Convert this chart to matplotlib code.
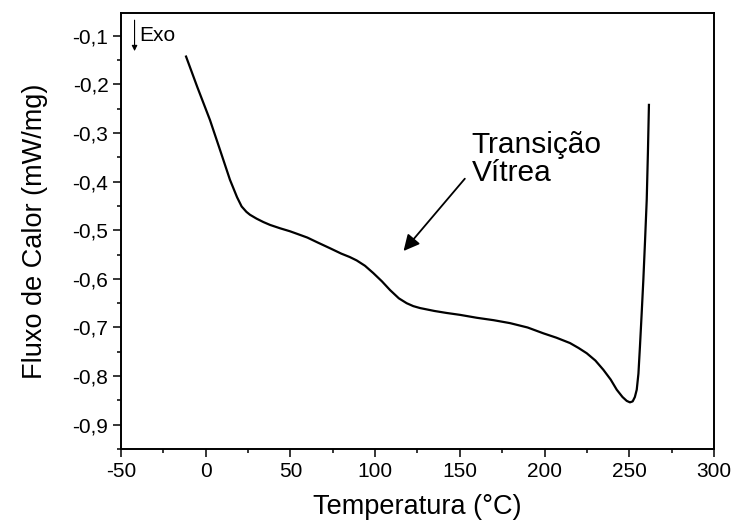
import numpy as np
import matplotlib.pyplot as plt
from matplotlib.ticker import MultipleLocator

plt.rcParams['font.family'] = ['Liberation Sans', 'DejaVu Sans']
plt.rcParams['axes.unicode_minus'] = False

# DSC curve
temp = [-11.6, -5, 2.5, 8, 14.3, 18.5, 21.2, 24, 26.1, 30, 34, 38, 44, 49.7, 53.7,
        60, 66, 73.4, 80, 85, 89.1, 94, 98.9, 104, 108.8, 114, 118.6, 122.5, 126.5,
        135, 142, 150.1, 160, 170, 179.6, 190, 199.3, 207, 215, 220, 224.9, 230,
        234.7, 239, 242.6, 246, 248.5, 250.4, 252, 253.3, 254.4, 255.4, 256.3,
        257.3, 258.3, 259.3, 260.3, 261, 261.6]
flux = [-0.1426, -0.205, -0.273, -0.33, -0.396, -0.432, -0.451, -0.462, -0.468,
        -0.476, -0.483, -0.489, -0.496, -0.502, -0.507, -0.515, -0.525, -0.537,
        -0.548, -0.555, -0.562, -0.573, -0.588, -0.605, -0.623, -0.640, -0.650,
        -0.656, -0.660, -0.666, -0.670, -0.674, -0.680, -0.685, -0.691, -0.700,
        -0.712, -0.721, -0.732, -0.742, -0.753, -0.768, -0.787, -0.807, -0.828,
        -0.843, -0.851, -0.854, -0.852, -0.843, -0.828, -0.795, -0.739, -0.672,
        -0.602, -0.522, -0.437, -0.34, -0.242]

xticks = [-50, 0, 50, 100, 150, 200, 250, 300]
yticks = [-0.1, -0.2, -0.3, -0.4, -0.5, -0.6, -0.7, -0.8, -0.9]
ylabels = ['-0,1', '-0,2', '-0,3', '-0,4', '-0,5', '-0,6', '-0,7', '-0,8', '-0,9']

fig = plt.figure(figsize=(7.32, 5.29), dpi=100)
ax = fig.add_axes([0.1653, 0.1512, 0.8101, 0.8242])

ax.plot(temp, flux, color='black', lw=1.6)

ax.set_xlim(-50, 300)
ax.set_ylim(-0.95, -0.053)
ax.set_xticks(xticks)
ax.set_yticks(yticks)
ax.set_yticklabels(ylabels)
ax.xaxis.set_minor_locator(MultipleLocator(25))
ax.yaxis.set_minor_locator(MultipleLocator(0.05))
ax.tick_params(which='major', direction='out', length=5.5, width=1.1, labelsize=15)
ax.tick_params(which='minor', direction='out', length=3, width=1.1)
for s in ax.spines.values():
    s.set_linewidth(1.4)

ax.set_xlabel('Temperatura (°C)', fontsize=19.5, labelpad=10)
ax.set_ylabel('Fluxo de Calor (mW/mg)', fontsize=19.5, labelpad=18)

# Exo marker
ax.annotate('', xy=(-42, -0.137), xytext=(-42, -0.062),
            arrowprops=dict(arrowstyle='-|>', color='black', lw=0.8, mutation_scale=8))
ax.text(-39.5, -0.1, 'Exo', fontsize=15, va='center', ha='left')

# glass transition label
ax.text(157, -0.353, 'Transição\nVítrea', fontsize=21.5, ha='left', va='center',
        linespacing=1.0)
ax.annotate('', xy=(115.7, -0.547), xytext=(154, -0.3895),
            arrowprops=dict(arrowstyle='-|>', color='black', lw=1.3, mutation_scale=24))

fig.savefig('out.png', dpi=100)
